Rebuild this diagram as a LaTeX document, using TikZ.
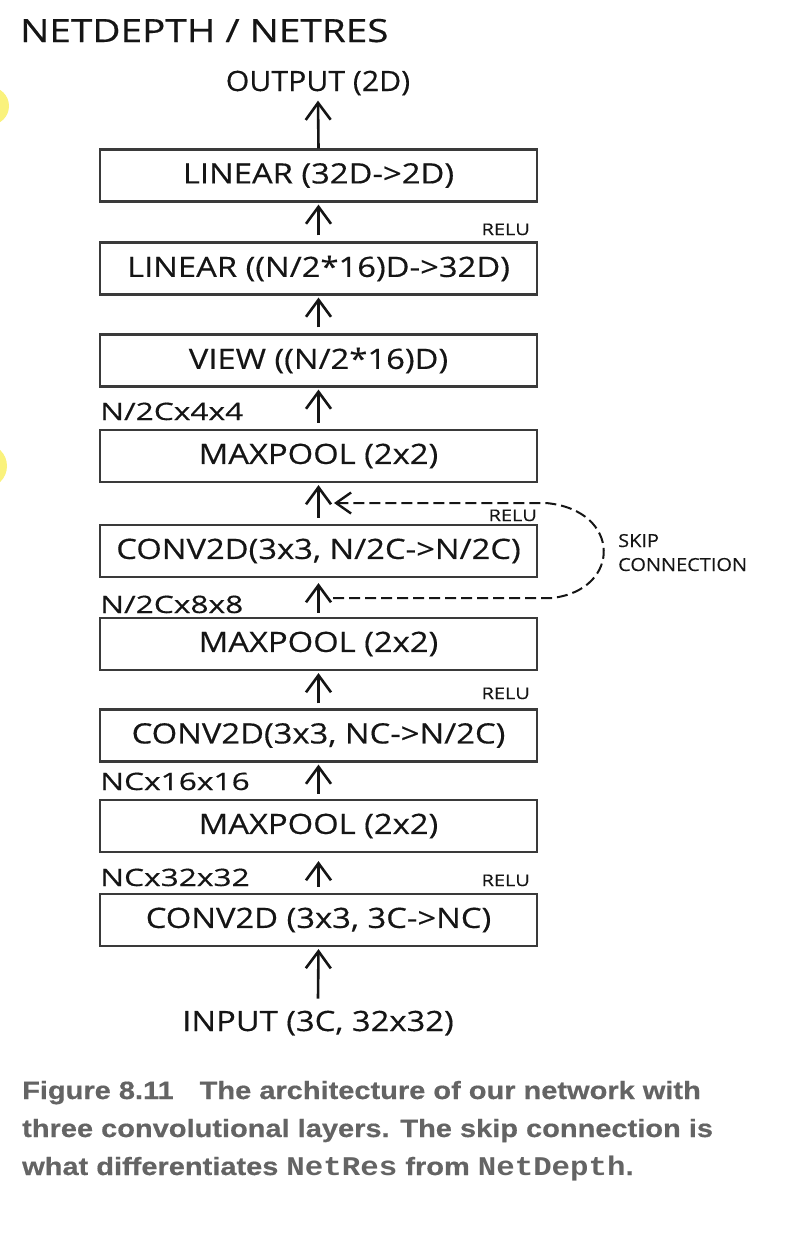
\documentclass[tikz,border=0pt]{standalone}
\usepackage{fontspec}
\setmainfont{Open Sans}
\newfontfamily\handB[FakeStretch=1.17,FakeBold=0.4]{Open Sans}
\newfontfamily\handO[FakeStretch=1.08,FakeBold=0.4]{Open Sans}
\newfontfamily\handT[FakeStretch=1.21,FakeBold=0.4]{Open Sans}
\newfontfamily\handD[FakeStretch=1.32,FakeBold=0.4]{Open Sans}
\newfontfamily\handR[FakeStretch=1.25,FakeBold=0.3]{Open Sans}
\newfontfamily\handS[FakeStretch=1.11,FakeBold=0.3]{Open Sans}
\newfontfamily\capfont[FakeStretch=1.16,FakeBold=0.5]{Liberation Sans}
\newfontfamily\capmono[FakeStretch=1.14]{Liberation Mono}
\usetikzlibrary{arrows.meta}
\definecolor{ink}{HTML}{151515}
\definecolor{boxline}{HTML}{3A3A3A}
\definecolor{capgray}{HTML}{646464}
\definecolor{hl}{HTML}{FAF27C}
\tikzset{
  layer/.style={draw=boxline, line width=2.2pt, minimum width=437pt, minimum height=52pt, inner sep=0pt,
    text=ink, font=\handB\fontsize{28}{30}\selectfont},
  flow/.style={draw=ink, line width=2.6pt, -{Straight Barb[length=17pt,width=25pt,line width=2.6pt]}},
  skipline/.style={draw=ink, line width=2pt, dash pattern=on 11pt off 5pt,
    -{Straight Barb[length=15pt,width=21pt,line width=2.4pt]}},
  bigtxt/.style={text=ink, inner sep=0pt, font=\handB\fontsize{28}{30}\selectfont},
  dimtxt/.style={text=ink, inner sep=0pt, anchor=base west, font=\handD\fontsize{24}{26}\selectfont},
  relutxt/.style={text=ink, inner sep=0pt, anchor=base east, font=\handR\fontsize{16}{18}\selectfont},
  skiptxt/.style={text=ink, inner sep=0pt, anchor=base west, font=\handS\fontsize{18}{22}\selectfont},
  captxt/.style={text=capgray, inner sep=0pt, anchor=base west, font=\capfont\bfseries\fontsize{25}{30}\selectfont},
}
\begin{document}
\begin{tikzpicture}[x=1pt,y=-1pt]
\useasboundingbox (0,0) rectangle (788,1243);
\begin{scope}
\clip (0,0) rectangle (788,1243);
\fill[hl] (-10,106) circle (19pt);
\fill[hl] (-15,466) circle (22pt);
\end{scope}

\node[text=ink, inner sep=0pt, anchor=base west, font=\handT\fontsize{32}{34}\selectfont] (title) at (20,42) {NETDEPTH / NETRES};

\node[bigtxt, font=\handO\fontsize{28}{30}\selectfont, anchor=base] (out) at (318,91) {OUTPUT (2D)};
\node[layer] (b1) at (318.5,175.5) {LINEAR (32D->2D)};
\node[layer] (b2) at (318.5,268.5) {LINEAR ((N/2*16)D->32D)};
\node[layer] (b3) at (318.5,360.5) {VIEW ((N/2*16)D)};
\node[layer] (b4) at (318.5,456) {MAXPOOL (2x2)};
\node[layer] (b5) at (318.5,551) {CONV2D(3x3, N/2C->N/2C)};
\node[layer] (b6) at (318.5,644) {MAXPOOL (2x2)};
\node[layer] (b7) at (318.5,735.5) {CONV2D(3x3, NC->N/2C)};
\node[layer] (b8) at (318.5,826) {MAXPOOL (2x2)};
\node[layer] (b9) at (318.5,920) {CONV2D (3x3, 3C->NC)};
\node[bigtxt, anchor=base] (in) at (318,1031) {INPUT (3C, 32x32)};

\draw[flow] (b1.north) -- ([yshift=-5pt]out.south);
\draw[flow] ([yshift=6pt]b2.north) -- ([yshift=-2pt]b1.south);
\draw[flow] ([yshift=6pt]b3.north) -- ([yshift=-2pt]b2.south);
\draw[flow] ([yshift=6pt]b4.north) -- ([yshift=-2pt]b3.south);
\draw[flow] ([yshift=6pt]b5.north) -- ([yshift=-2pt]b4.south);
\draw[flow] ([yshift=4pt]b6.north) -- ([yshift=-5pt]b5.south);
\draw[flow] ([yshift=5pt]b7.north) -- ([yshift=-2pt]b6.south);
\draw[flow] ([yshift=5pt]b8.north) -- ([yshift=-2pt]b7.south);
\draw[flow] ([yshift=6pt]b9.north) -- ([yshift=-8pt]b8.south);
\draw[flow] ([yshift=12pt]in.north) -- ([yshift=-2pt]b9.south);

\node[relutxt] (r1) at (530,235) {RELU};
\node[relutxt] (r2) at (537,521) {RELU};
\node[relutxt] (r3) at (530,699) {RELU};
\node[relutxt] (r4) at (530,886) {RELU};

\node[dimtxt] (d1) at (100,420) {N/2Cx4x4};
\node[dimtxt] (d2) at (100,613) {N/2Cx8x8};
\node[dimtxt] (d3) at (100,790) {NCx16x16};
\node[dimtxt] (d4) at (100,886) {NCx32x32};

\coordinate (skA) at (333,598);
\coordinate (skB) at (334,503);
\draw[skipline] (skA) -- (552,598) .. controls (622,590) and (622,510) .. (546,503) -- (skB);
\node[skiptxt] (sk1) at (618,547) {SKIP};
\node[skiptxt] (sk2) at (618,571) {CONNECTION};

\node[captxt] (c1) at (22,1099) {Figure 8.11\hspace{26pt}The architecture of our network with};
\node[captxt] (c2) at (22,1137) {three convolutional layers. The skip connection is};
\node[captxt] (c3) at (22,1175) {what differentiates {\capmono\bfseries\fontsize{27}{30}\selectfont NetRes} from {\capmono\bfseries\fontsize{27}{30}\selectfont NetDepth}.};
\end{tikzpicture}
\end{document}
